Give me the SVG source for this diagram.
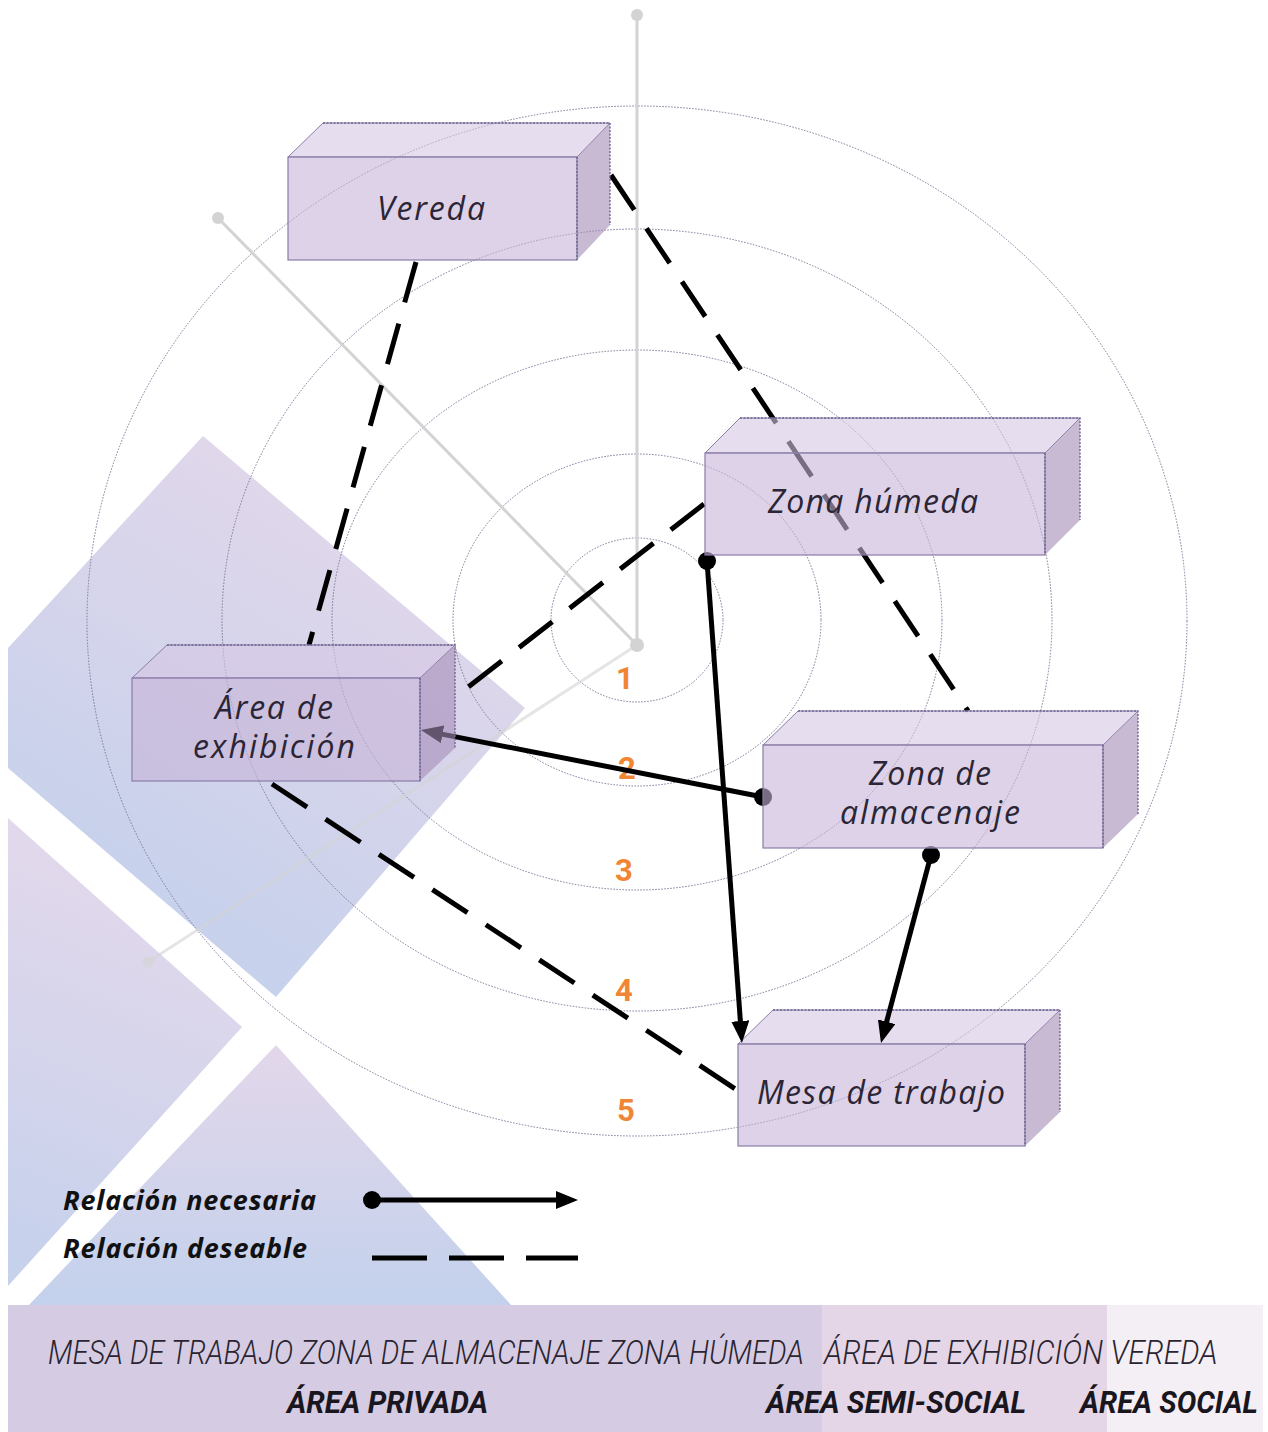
<svg xmlns="http://www.w3.org/2000/svg" width="1268" height="1432" viewBox="0 0 1268 1432">
<defs>
<linearGradient id="gDiamond" x1="0.75" y1="0" x2="0.2" y2="1">
<stop offset="0" stop-color="#e6d8ea"/>
<stop offset="1" stop-color="#c1d0ec"/>
</linearGradient>
<linearGradient id="gLeft" x1="0.5" y1="0" x2="0.3" y2="1">
<stop offset="0" stop-color="#e6d9eb"/>
<stop offset="1" stop-color="#c6d1ec"/>
</linearGradient>
<linearGradient id="gTri" x1="0.5" y1="0" x2="0.5" y2="1">
<stop offset="0" stop-color="#e3d7ea"/>
<stop offset="1" stop-color="#c3d1ec"/>
</linearGradient>
<marker id="arrow" viewBox="0 0 22 18" refX="6" refY="9" markerWidth="22" markerHeight="18" markerUnits="userSpaceOnUse" orient="auto">
<path d="M0,0 L22,9 L0,18 z" fill="#000"/>
</marker>
<marker id="dot" viewBox="0 0 20 20" refX="10" refY="10" markerWidth="20" markerHeight="20" markerUnits="userSpaceOnUse">
<circle cx="10" cy="10" r="9" fill="#000"/>
</marker>
</defs>
<style>
.ring{fill:none;stroke:#7c7598;stroke-width:1;stroke-dasharray:1.5 1.5}
.axis{stroke:#d3d3d3;stroke-width:3;fill:none}
.axisdot{fill:#d3d3d3}
.front{fill:#c6b4d7;fill-opacity:.6;stroke:#8a7da8;stroke-width:1.2}
.top{fill:#d5c6e4;fill-opacity:.6;stroke:#8a7da8;stroke-width:1}
.side{fill:#a58cb7;fill-opacity:.6;stroke:none}
.dotted{fill:none;stroke:#6e6590;stroke-width:1.4;stroke-dasharray:2 1.5}
.lbl{font-family:"Open Sans","Noto Sans",sans-serif;font-style:italic;font-size:32px;fill:#2b2535;text-anchor:middle}
.num{font-family:"Roboto","Liberation Sans",sans-serif;font-weight:700;font-size:31px;fill:#f08634;text-anchor:middle}
.want{fill:none;stroke:#000;stroke-width:5;stroke-dasharray:42 22}
.need{fill:none;stroke:#000;stroke-width:5;marker-start:url(#dot);marker-end:url(#arrow)}
.leg{font-family:"Noto Sans","Open Sans",sans-serif;font-style:italic;font-weight:700;font-size:27px;fill:#111}
.bar1{font-family:"Roboto","Liberation Sans",sans-serif;font-style:italic;font-weight:300;font-size:33px;fill:#2a2430}
.bar2{font-family:"Roboto","Liberation Sans",sans-serif;font-style:italic;font-weight:700;font-size:32px;fill:#1a1620}
</style>
<rect width="1268" height="1432" fill="#fff"/>
<g id="background">
<polygon points="203,436 525,708 276,997 8,768 8,648" fill="url(#gDiamond)"/>
<polygon points="8,818 242,1027 8,1286" fill="url(#gLeft)"/>
<polygon points="276,1045 512,1306 28,1306" fill="url(#gTri)"/>
</g>
<g id="bar">
<rect x="8" y="1305" width="814" height="127" fill="#d5cce3"/>
<rect x="822" y="1305" width="285" height="127" fill="#e4d6e7"/>
<rect x="1107" y="1305" width="156" height="127" fill="#f4eff5"/>
<text class="bar1" transform="translate(48,1364) scale(0.8,1)" x="0" y="0" textLength="945" lengthAdjust="spacingAndGlyphs">MESA DE TRABAJO ZONA DE ALMACENAJE ZONA HÚMEDA</text>
<text class="bar1" transform="translate(824,1364) scale(0.8,1)" x="0" y="0" textLength="492" lengthAdjust="spacingAndGlyphs">ÁREA DE EXHIBICIÓN VEREDA</text>
<text class="bar2" transform="translate(287,1413) scale(0.75,1)" x="0" y="0" textLength="268" lengthAdjust="spacingAndGlyphs">ÁREA PRIVADA</text>
<text class="bar2" transform="translate(766,1413) scale(0.75,1)" x="0" y="0" textLength="347" lengthAdjust="spacingAndGlyphs">ÁREA SEMI-SOCIAL</text>
<text class="bar2" transform="translate(1080,1413) scale(0.75,1)" x="0" y="0" textLength="237" lengthAdjust="spacingAndGlyphs">ÁREA SOCIAL</text>
</g>
<g id="rings">
<ellipse class="ring" cx="637" cy="620" rx="86" ry="82"/>
<ellipse class="ring" cx="637" cy="620" rx="184" ry="166"/>
<ellipse class="ring" cx="637" cy="620" rx="305" ry="270"/>
<ellipse class="ring" cx="637" cy="620" rx="415" ry="391"/>
<ellipse class="ring" cx="637" cy="621" rx="550" ry="515"/>
</g>
<g id="axes">
<line class="axis" x1="637" y1="15" x2="637" y2="645"/>
<line class="axis" x1="218" y1="218" x2="637" y2="645"/>
<line class="axis" x1="637" y1="645" x2="148" y2="962" stroke-opacity=".6"/>
<circle class="axisdot" cx="637" cy="15" r="6"/>
<circle class="axisdot" cx="218" cy="218" r="6"/>
<circle class="axisdot" cx="637" cy="645" r="7"/>
<circle class="axisdot" cx="148" cy="962" r="6" fill-opacity=".6"/>
</g>
<g id="ring-numbers">
<text class="num" x="625" y="689">1</text>
<text class="num" x="627" y="779">2</text>
<text class="num" x="624" y="881">3</text>
<text class="num" x="624" y="1001">4</text>
<text class="num" x="626" y="1121">5</text>
</g>
<g id="mesa-trabajo">
<polygon class="top" points="738,1044 773,1010 1060,1010 1025,1044"/>
<polygon class="side" points="1025,1044 1060,1010 1060,1112 1025,1146"/>
<rect class="front" x="738" y="1044" width="287" height="102"/>
<path class="dotted" d="M773,1010 H1060 V1112 M1025,1044 V1146"/>
<text class="lbl" x="881" y="1104" textLength="248" lengthAdjust="spacing">Mesa de trabajo</text>
</g>
<g id="connectors">
<line class="want" x1="416" y1="262" x2="309" y2="645"/>
<line class="want" x1="611" y1="175" x2="968" y2="711"/>
<line class="want" x1="704" y1="504" x2="454" y2="698"/>
<line class="want" x1="272" y1="784" x2="737" y2="1090"/>
<line class="need" x1="707" y1="561" x2="740.8" y2="1027"/>
<line class="need" x1="763" y1="797" x2="436.7" y2="733.1"/>
<line class="need" x1="931" y1="855" x2="885.1" y2="1027.5"/>
</g>
<g id="vereda">
<polygon class="top" points="288,157 323,123 610,123 577,157"/>
<polygon class="side" points="577,157 610,123 610,225 577,260"/>
<rect class="front" x="288" y="157" width="289" height="103"/>
<path class="dotted" d="M323,123 H610 V225 M577,157 V260"/>
<text class="lbl" x="431" y="220" textLength="108" lengthAdjust="spacing">Vereda</text>
</g>
<g id="zona-humeda">
<polygon class="top" points="705,453 740,418 1080,418 1045,453"/>
<polygon class="side" points="1045,453 1080,418 1080,520 1045,555"/>
<rect class="front" x="705" y="453" width="340" height="102"/>
<path class="dotted" d="M740,418 H1080 V520 M1045,453 V555"/>
<text class="lbl" x="873" y="513" textLength="210" lengthAdjust="spacing">Zona húmeda</text>
</g>
<g id="area-exhibicion">
<polygon class="top" points="132,678 167,645 455,645 420,678"/>
<polygon class="side" points="420,678 455,645 455,748 420,781"/>
<rect class="front" x="132" y="678" width="288" height="103"/>
<path class="dotted" d="M167,645 H455 V748 M420,678 V781"/>
<text class="lbl" x="274" y="719" textLength="118" lengthAdjust="spacing">Área de</text>
<text class="lbl" x="274" y="758" textLength="162" lengthAdjust="spacing">exhibición</text>
</g>
<g id="zona-almacenaje">
<polygon class="top" points="763,745 798,711 1138,711 1103,745"/>
<polygon class="side" points="1103,745 1138,711 1138,814 1103,848"/>
<rect class="front" x="763" y="745" width="340" height="103"/>
<path class="dotted" d="M798,711 H1138 V814 M1103,745 V848"/>
<text class="lbl" x="930" y="785" textLength="122" lengthAdjust="spacing">Zona de</text>
<text class="lbl" x="930" y="824" textLength="180" lengthAdjust="spacing">almacenaje</text>
</g>
<g id="legend">
<text class="leg" x="63" y="1210" textLength="253" lengthAdjust="spacing">Relación necesaria</text>
<text class="leg" x="63" y="1258" textLength="244" lengthAdjust="spacing">Relación deseable</text>
<line class="need" x1="372" y1="1200" x2="562" y2="1200"/>
<line x1="372" y1="1258" x2="578" y2="1258" stroke="#000" stroke-width="5" stroke-dasharray="55 22"/>
</g>
</svg>
